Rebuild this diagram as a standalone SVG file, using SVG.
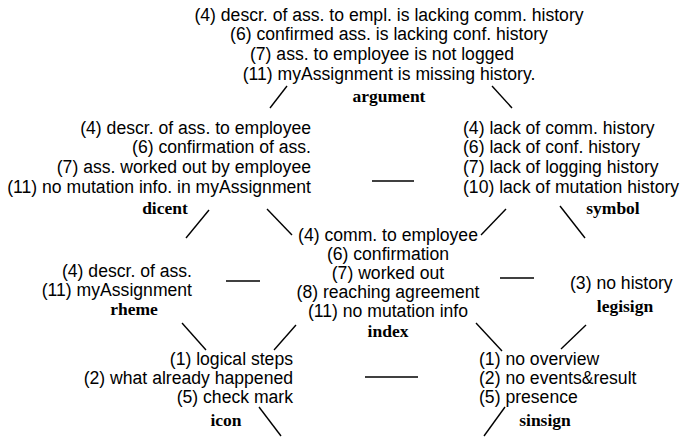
<svg xmlns="http://www.w3.org/2000/svg" width="682" height="438" viewBox="0 0 682 438">
  <style>
    .t { font-family: "Liberation Sans", Arial, Helvetica, sans-serif; font-size: 17.6px; fill: #000; }
    .l { font-family: "Liberation Serif", "Times New Roman", serif; font-size: 17.5px; font-weight: bold; fill: #000; }
    .m { text-anchor: middle; }
    .e { text-anchor: end; }
    .c line { stroke: #000; stroke-width: 1.4; }
  </style>
  <rect width="682" height="438" fill="#fff"/>

  <g id="argument">
    <text class="t m" x="389" y="21">(4) descr. of ass. to empl. is lacking comm. history</text>
    <text class="t m" x="389" y="40">(6) confirmed ass. is lacking conf. history</text>
    <text class="t m" x="382" y="60">(7) ass. to employee is not logged</text>
    <text class="t m" x="389" y="80">(11) myAssignment is missing history.</text>
    <text class="l m" x="389" y="102">argument</text>
  </g>

  <g id="dicent">
    <text class="t e" x="311" y="134">(4) descr. of ass. to employee</text>
    <text class="t e" x="311" y="153">(6) confirmation of ass.</text>
    <text class="t e" x="311" y="173">(7) ass. worked out by employee</text>
    <text class="t e" x="311" y="193">(11) no mutation info. in myAssignment</text>
    <text class="l m" x="165" y="214">dicent</text>
  </g>

  <g id="symbol">
    <text class="t" x="463" y="134">(4) lack of comm. history</text>
    <text class="t" x="463" y="153">(6) lack of conf. history</text>
    <text class="t" x="463" y="173">(7) lack of logging history</text>
    <text class="t" x="463" y="193">(10) lack of mutation history</text>
    <text class="l m" x="613" y="214">symbol</text>
  </g>

  <g id="index">
    <text class="t m" x="388" y="241">(4) comm. to employee</text>
    <text class="t m" x="388" y="260">(6) confirmation</text>
    <text class="t m" x="388" y="279">(7) worked out</text>
    <text class="t m" x="388" y="298">(8) reaching agreement</text>
    <text class="t m" x="388" y="317">(11) no mutation info</text>
    <text class="l m" x="388" y="337">index</text>
  </g>

  <g id="rheme">
    <text class="t e" x="192" y="277">(4) descr. of ass.</text>
    <text class="t e" x="192" y="296">(11) myAssignment</text>
    <text class="l m" x="134" y="315">rheme</text>
  </g>

  <g id="legisign">
    <text class="t" x="570" y="289">(3) no history</text>
    <text class="l m" x="625" y="312">legisign</text>
  </g>

  <g id="icon">
    <text class="t e" x="293" y="365">(1) logical steps</text>
    <text class="t e" x="293" y="384">(2) what already happened</text>
    <text class="t e" x="293" y="403">(5) check mark</text>
    <text class="l m" x="226" y="426">icon</text>
  </g>

  <g id="sinsign">
    <text class="t" x="479" y="365">(1) no overview</text>
    <text class="t" x="479" y="384">(2) no events&amp;result</text>
    <text class="t" x="479" y="403">(5) presence</text>
    <text class="l m" x="545" y="426">sinsign</text>
  </g>

  <g id="connectors" class="c">
    <line x1="287" y1="86" x2="270" y2="108"/>
    <line x1="492" y1="86" x2="512" y2="108"/>
    <line x1="372" y1="181" x2="414" y2="181"/>
    <line x1="209" y1="210" x2="186" y2="238"/>
    <line x1="267" y1="209" x2="292" y2="235"/>
    <line x1="506" y1="209" x2="481" y2="235"/>
    <line x1="560" y1="206" x2="585" y2="238"/>
    <line x1="226" y1="281" x2="260" y2="281"/>
    <line x1="500" y1="278" x2="534" y2="278"/>
    <line x1="182" y1="323" x2="206" y2="350"/>
    <line x1="296" y1="325" x2="274" y2="350"/>
    <line x1="476" y1="323" x2="502" y2="351"/>
    <line x1="586" y1="325" x2="561" y2="349"/>
    <line x1="365" y1="377" x2="418" y2="377"/>
    <line x1="259" y1="407" x2="281" y2="436"/>
    <line x1="505" y1="407" x2="484" y2="436"/>
  </g>
</svg>
